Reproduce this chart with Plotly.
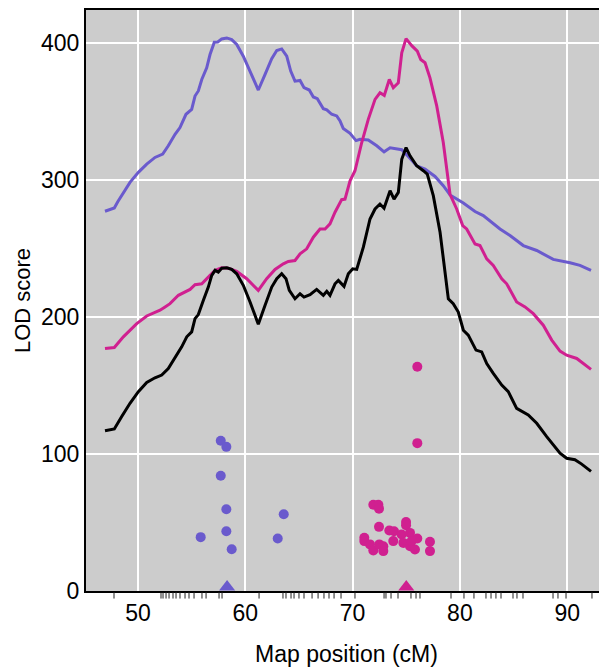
import plotly.graph_objects as go

# ---- data ----
pos_blue = [46.92, 47.79, 48.11, 49.25, 50.03, 50.81, 51.58, 52.30, 52.82, 53.45, 53.91, 54.47, 55.00, 55.31,
            55.62, 55.94, 56.40, 56.71, 57.11, 57.43, 57.80, 58.27, 58.73, 59.20, 59.81, 60.44, 61.21, 61.84,
            62.46, 62.93, 63.39, 63.86, 64.23, 64.63, 65.10, 65.47, 65.96, 66.34, 66.71, 67.27, 67.59, 68.05,
            68.52, 68.83, 69.13, 69.76, 70.32, 70.69, 71.46, 72.25, 72.93, 73.49, 74.58, 75.19, 75.97, 76.75,
            77.68, 78.45, 79.08, 80.32, 81.41, 82.18, 83.74, 84.67, 85.91, 87.16, 88.70, 90.26, 91.19, 92.22]
lod_blue = [277.1, 279.5, 284.1, 298.2, 305.5, 311.5, 316.4, 318.8, 324.9, 333.3, 338.2, 347.9, 351.5, 361.2,
            364.9, 373.3, 381.8, 391.5, 400.5, 400.7, 402.9, 403.6, 402.4, 398.8, 390.3, 379.4, 365.6, 377.0,
            388.4, 394.4, 395.6, 390.3, 379.4, 372.1, 372.6, 367.3, 365.6, 360.5, 359.3, 352.0, 351.1, 347.9,
            346.7, 343.1, 337.5, 334.0, 328.7, 329.7, 329.2, 324.9, 320.5, 323.4, 322.0, 317.1, 310.3, 307.9,
            302.5, 295.8, 289.0, 283.1, 276.9, 274.0, 264.2, 259.4, 252.1, 248.5, 242.0, 239.5, 237.6, 234.0]

pos_pink = [46.92, 47.79, 48.63, 49.88, 50.81, 52.05, 52.52, 52.98, 53.76, 54.85, 55.31, 55.94, 56.71, 57.18,
            57.80, 58.42, 59.20, 60.13, 61.21, 61.99, 62.77, 63.54, 64.01, 64.63, 65.10, 65.72, 66.34, 66.96,
            67.43, 67.89, 68.36, 68.98, 69.29, 69.76, 70.22, 70.85, 71.46, 72.09, 72.55, 72.95, 73.42, 73.79,
            74.26, 74.58, 74.98, 75.51, 76.03, 76.35, 76.75, 77.21, 77.84, 78.45, 79.08, 79.70, 80.26, 80.63,
            81.41, 81.87, 82.50, 83.11, 83.90, 84.36, 85.29, 86.07, 86.84, 87.77, 88.56, 89.33, 89.95, 90.89,
            92.22]
lod_pink = [176.9, 177.7, 185.5, 195.1, 200.7, 204.9, 207.3, 209.7, 215.8, 220.1, 223.5, 224.2, 230.3, 234.0,
            235.9, 235.6, 233.2, 227.9, 219.4, 227.9, 234.7, 238.8, 240.5, 241.2, 246.0, 249.7, 258.2, 264.2,
            264.2, 267.9, 276.4, 285.6, 286.0, 299.4, 306.7, 327.3, 344.2, 358.8, 363.6, 361.7, 373.3, 367.3,
            370.9, 392.7, 403.1, 398.0, 394.0, 387.9, 385.5, 374.5, 354.0, 327.3, 289.5, 278.8, 266.7, 264.2,
            253.3, 252.1, 242.4, 237.6, 227.9, 224.2, 210.9, 207.3, 202.4, 194.0, 183.1, 175.1, 172.1, 169.7,
            161.7]

pos_black = [46.92, 47.79, 48.48, 49.25, 50.03, 50.81, 51.58, 52.21, 52.82, 53.45, 54.07, 54.54, 55.00, 55.31,
             55.62, 56.09, 56.55, 56.87, 57.18, 57.48, 57.80, 58.27, 58.73, 59.20, 59.81, 60.44, 61.21, 61.84,
             62.46, 62.93, 63.39, 63.79, 64.10, 64.63, 65.10, 65.47, 66.03, 66.65, 67.27, 67.59, 67.89, 68.36,
             68.67, 69.20, 69.60, 70.01, 70.38, 71.00, 71.62, 72.09, 72.55, 72.93, 73.49, 73.86, 74.26, 74.58,
             74.98, 75.35, 75.97, 76.59, 76.96, 77.52, 78.15, 78.92, 79.38, 79.85, 80.32, 80.78, 81.50, 82.03,
             82.50, 83.11, 83.90, 84.51, 85.29, 86.37, 87.16, 88.09, 89.33, 89.95, 90.72, 91.35, 92.22]
lod_black = [116.9, 118.3, 127.3, 137.0, 145.5, 152.2, 155.6, 157.6, 162.4, 170.4, 178.2, 185.5, 189.1, 198.8,
             201.7, 212.1, 221.8, 230.3, 234.0, 232.7, 235.6, 235.9, 234.7, 231.5, 223.1, 210.9, 194.7, 208.5,
             221.8, 227.9, 231.5, 227.9, 219.4, 213.3, 216.9, 214.5, 216.2, 220.1, 215.8, 218.7, 215.8, 224.2,
             226.7, 222.3, 231.5, 235.1, 234.7, 250.9, 271.5, 278.8, 282.4, 279.3, 292.1, 286.0, 290.9, 315.1,
             323.6, 317.6, 310.3, 306.7, 304.2, 288.5, 261.8, 213.3, 209.7, 203.6, 190.3, 186.7, 175.8, 174.5,
             166.0, 158.8, 150.3, 145.5, 133.3, 128.5, 122.4, 112.7, 100.6, 96.9, 95.8, 92.6, 87.3]

pts_blue_pos = [57.71, 58.23, 57.71, 58.23, 58.23, 55.84, 58.73, 63.58, 63.02]
pts_blue_lod = [109.6, 105.2, 84.1, 59.6, 43.6, 39.3, 30.5, 56.0, 38.3]

pts_pink_pos = [76.03, 76.03, 71.93, 72.40, 72.46, 72.46, 73.42, 73.86, 74.98, 74.98, 71.09, 71.09, 71.62,
                71.93, 72.49, 72.86, 72.86, 73.79, 74.57, 75.35, 74.73, 75.35, 76.03, 75.81, 77.21, 77.21, 75.50]
pts_pink_lod = [163.6, 107.9, 63.0, 63.0, 60.1, 46.8, 44.1, 43.6, 50.4, 48.0, 38.8, 36.4, 34.0,
                29.6, 34.0, 32.7, 29.1, 36.4, 41.2, 42.4, 35.1, 32.7, 38.3, 30.3, 35.9, 29.1, 36.4]

markers = [47.76, 52.14, 52.33, 52.61, 52.89, 53.26, 53.54, 53.91, 54.38, 54.75, 55.22, 55.96, 56.34, 57.55,
           57.83, 61.28, 63.51, 63.79, 64.26, 64.54, 65.00, 65.47, 66.22, 66.78, 67.33, 67.80, 68.27, 68.92,
           70.22, 72.93, 73.11, 73.58, 74.23, 75.44, 75.91, 76.28, 79.17, 80.38, 81.31, 82.43, 82.90, 83.36,
           83.83, 84.95, 85.32, 85.88, 88.68, 89.14, 89.89, 92.31]

peak_pos = [58.3, 75.0]
peak_cols = ["#6A5ACD", "#D02090"]

x_ticks = [50, 60, 70, 80, 90]
y_ticks = [0, 100, 200, 300, 400]

BLUE = "#6A5ACD"
PINK = "#D02090"

fig = go.Figure()
fig.add_trace(go.Scatter(x=pos_blue, y=lod_blue, mode="lines", line=dict(color=BLUE, width=3)))
fig.add_trace(go.Scatter(x=pos_pink, y=lod_pink, mode="lines", line=dict(color=PINK, width=3)))
fig.add_trace(go.Scatter(x=pos_black, y=lod_black, mode="lines", line=dict(color="black", width=3)))
fig.add_trace(go.Scatter(x=pts_blue_pos, y=pts_blue_lod, mode="markers",
                         marker=dict(color=BLUE, size=10, line=dict(width=0))))
fig.add_trace(go.Scatter(x=pts_pink_pos, y=pts_pink_lod, mode="markers",
                         marker=dict(color=PINK, size=10, line=dict(width=0))))
# peak triangles
fig.add_trace(go.Scatter(x=peak_pos, y=[3.0] * len(peak_pos), mode="markers", cliponaxis=False,
                         marker=dict(symbol="triangle-up", size=14, color=peak_cols, line=dict(width=0))))

# rug of marker positions just below the x axis (x in data units, y in paper units)
for m in markers:
    fig.add_shape(type="line", xref="x", yref="paper", x0=m, x1=m, y0=-0.002, y1=-0.013,
                  line=dict(color="#222222", width=1), layer="above")

font = dict(family="Liberation Sans, Arial, sans-serif", size=23, color="black")
# the page body adds an 8px margin, so the figure is sized to compensate
fig.update_layout(
    width=599, height=664,
    margin=dict(l=78, r=0, t=0, b=81),
    paper_bgcolor="white", plot_bgcolor="#CCCCCC",
    showlegend=False, font=font,
)
fig.update_xaxes(range=[45.15, 93.71], tickvals=x_ticks, showgrid=True, gridcolor="white", gridwidth=1.6,
                 zeroline=False, showline=True, linecolor="black", linewidth=2, mirror=True,
                 ticks="", ticklabelstandoff=0,
                 title=dict(text="Map position (cM)", font=dict(size=23), standoff=21))
fig.update_yaxes(range=[0, 424], tickvals=y_ticks, showgrid=True, gridcolor="white", gridwidth=1.6,
                 zeroline=False, showline=True, linecolor="black", linewidth=2,
                 ticks="", ticklabelstandoff=0,
                 title=dict(text="LOD score", font=dict(size=22), standoff=4))

fig.write_html("out.html")
